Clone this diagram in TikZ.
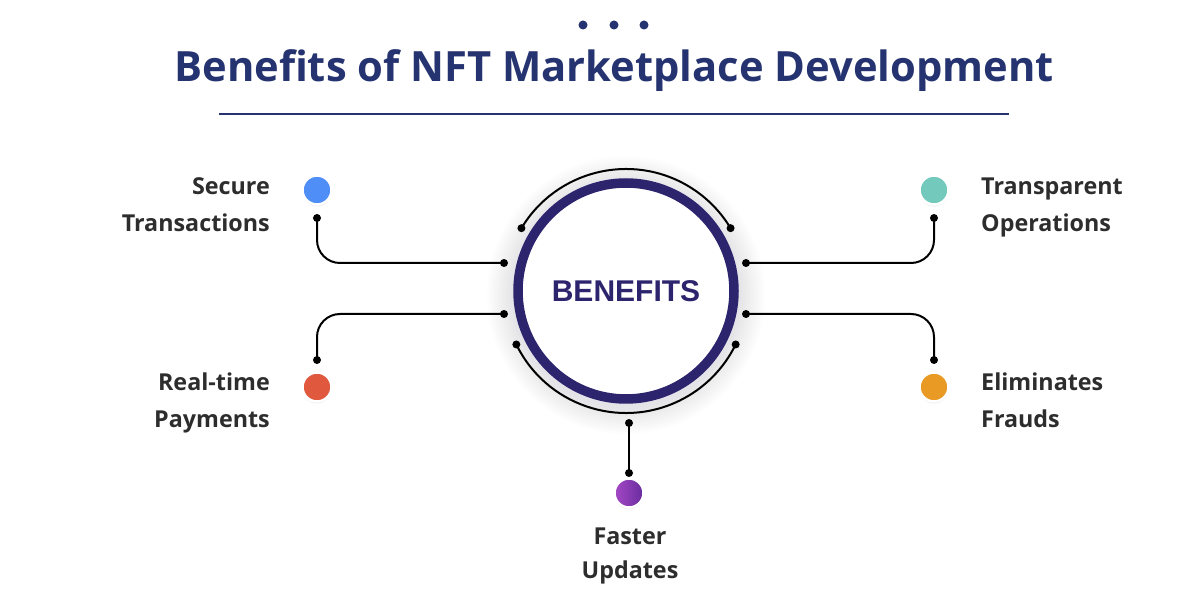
\documentclass[tikz,border=0pt]{standalone}
\usepackage{fontspec}
\usetikzlibrary{calc,shadows}
\setmainfont{Open Sans}
\newfontfamily\arialf{Liberation Sans}
\definecolor{navy}{RGB}{37,52,112}
\definecolor{ringc}{RGB}{45,36,110}
\definecolor{labc}{RGB}{45,45,45}
\definecolor{shadc}{RGB}{60,70,110}
\definecolor{cblue}{RGB}{79,142,247}
\definecolor{cteal}{RGB}{114,201,188}
\definecolor{cred}{RGB}{224,88,62}
\definecolor{corange}{RGB}{232,154,37}
\definecolor{cpurpA}{RGB}{165,72,198}
\definecolor{cpurpB}{RGB}{104,44,158}
\tikzset{
  dotn/.style={circle,fill=black,inner sep=0pt,minimum size=8pt},
  conn/.style={line width=2pt,black},
  lab/.style={font=\fontsize{23.3}{28}\selectfont\bfseries,text=labc,inner sep=0pt},
  bullet/.style={circle,inner sep=0pt,minimum size=29pt,draw=white,line width=2.5pt,
    drop shadow={shadow xshift=0pt,shadow yshift=-2pt,opacity=0.12,fill=black!60}},
  tdot/.style={circle,fill=navy,inner sep=0pt,minimum size=9pt},
}
\begin{document}
\begin{tikzpicture}[x=1pt,y=1pt]
\useasboundingbox[fill=white] (0,0) rectangle (1200,600);
% top dots
\node[tdot] (d1) at (583,575) {};
\node[tdot] (d2) at (614,575) {};
\node[tdot] (d3) at (644,575) {};
% title
\node[anchor=base,inner sep=0pt,text=navy,font=\fontsize{41.7}{48}\selectfont\bfseries] (title) at (614,518) {Benefits of NFT Marketplace Development};
\coordinate (ulA) at (219,486);
\coordinate (ulB) at (1009,486);
\draw[navy,line width=2.5pt] (ulA) -- (ulB);
% center circle with soft shadow
\coordinate (C) at (626,309);
\coordinate (Cs) at (626,305);
\foreach \r in {113,115,...,139} \fill[shadc,opacity=0.006] (Cs) circle (\r);
\fill[white] (C) circle (112);
\draw[ringc,line width=9.5pt] (C) circle (108);
\node[font=\arialf\fontsize{30}{32}\selectfont\bfseries,text=ringc] (ben) at (626,309) {BENEFITS};
% outer arcs
\node[dotn] (T1) at ($(C)+(149:122)$) {};
\node[dotn] (T2) at ($(C)+(31:122)$) {};
\node[dotn] (U1) at ($(C)+(206:122)$) {};
\node[dotn] (U2) at ($(C)+(334:122)$) {};
\draw[conn] (T1.center) arc[start angle=149,end angle=31,radius=122];
\draw[conn] (U1.center) arc[start angle=206,end angle=334,radius=122];
% connector dots
\node[dotn] (L1a) at (504,337) {};
\node[dotn] (L1b) at (317,382) {};
\node[dotn] (L2a) at (504,286) {};
\node[dotn] (L2b) at (317,240) {};
\node[dotn] (R1a) at (746,337) {};
\node[dotn] (R1b) at (934,382) {};
\node[dotn] (R2a) at (746,286) {};
\node[dotn] (R2b) at (934,240) {};
\node[dotn] (B1) at (629,177) {};
\node[dotn] (B2) at (629,127) {};
\draw[conn,rounded corners=23pt] (L1a.center) -| (L1b.center);
\draw[conn,rounded corners=23pt] (L2a.center) -| (L2b.center);
\draw[conn,rounded corners=23pt] (R1a.center) -| (R1b.center);
\draw[conn,rounded corners=23pt] (R2a.center) -| (R2b.center);
\draw[conn] (B1.center) -- (B2.center);
% bullets
\node[bullet,fill=cblue] (bS) at (317,410) {};
\node[bullet,fill=cred] (bR) at (317,213) {};
\node[bullet,fill=cteal] (bT) at (934,410) {};
\node[bullet,fill=corange] (bE) at (934,213) {};
\node[bullet,left color=cpurpA,right color=cpurpB] (bF) at (629,107) {};
% labels
\node[lab,anchor=base east] (s1) at (270,405) {Secure};
\node[lab,anchor=base east] (s2) at (270,368) {Transactions};
\node[lab,anchor=base west] (t1) at (981,405) {Transparent};
\node[lab,anchor=base west] (t2) at (981,368) {Operations};
\node[lab,anchor=base east] (r1) at (270,209) {Real-time};
\node[lab,anchor=base east] (r2) at (270,172) {Payments};
\node[lab,anchor=base west] (e1) at (981,209) {Eliminates};
\node[lab,anchor=base west] (e2) at (981,172) {Frauds};
\node[lab,anchor=base] (f1) at (630,55) {Faster};
\node[lab,anchor=base] (f2) at (630,21) {Updates};
\end{tikzpicture}
\end{document}
